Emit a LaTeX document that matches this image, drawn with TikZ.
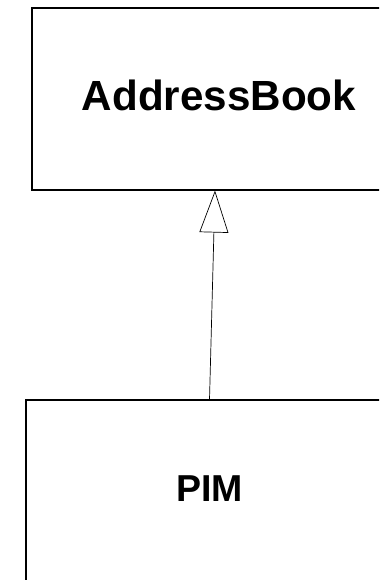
\documentclass[tikz,border=0pt]{standalone}
\usepackage{fontspec}
\setmainfont{Liberation Sans}
\usetikzlibrary{arrows.meta,positioning}

\begin{document}
\begin{tikzpicture}[x=0.3mm, y=-0.3mm, line width=0.9pt,
		box/.style = {draw, rectangle, inner sep=0pt},
		lbl/.style = {inner sep=0pt, font=\bfseries\fontsize{36}{42}\selectfont},
		inherit/.style = {line width=0.6pt, -{Triangle[open, length=12.6mm, width=8.7mm]}}]
		\useasboundingbox (0,0) rectangle (379,580);
		\clip (0,0) rectangle (379,580);
		\node[box] (ab) at (219,99) [minimum width=112.2mm, minimum height=54.6mm] {};
		\node[lbl] (ablbl) at (219,95.5) {AddressBook};
		\node[box] (pim) at (209.5,500) [minimum width=110.1mm, minimum height=60mm] {};
		\node[lbl] (pimlbl) at (209.5,488.5) [font=\bfseries\fontsize{32}{38}\selectfont] {PIM};
		\draw[inherit] (pim.north) -- ([xshift=-1.2mm]ab.south);
	\end{tikzpicture}
\end{document}
